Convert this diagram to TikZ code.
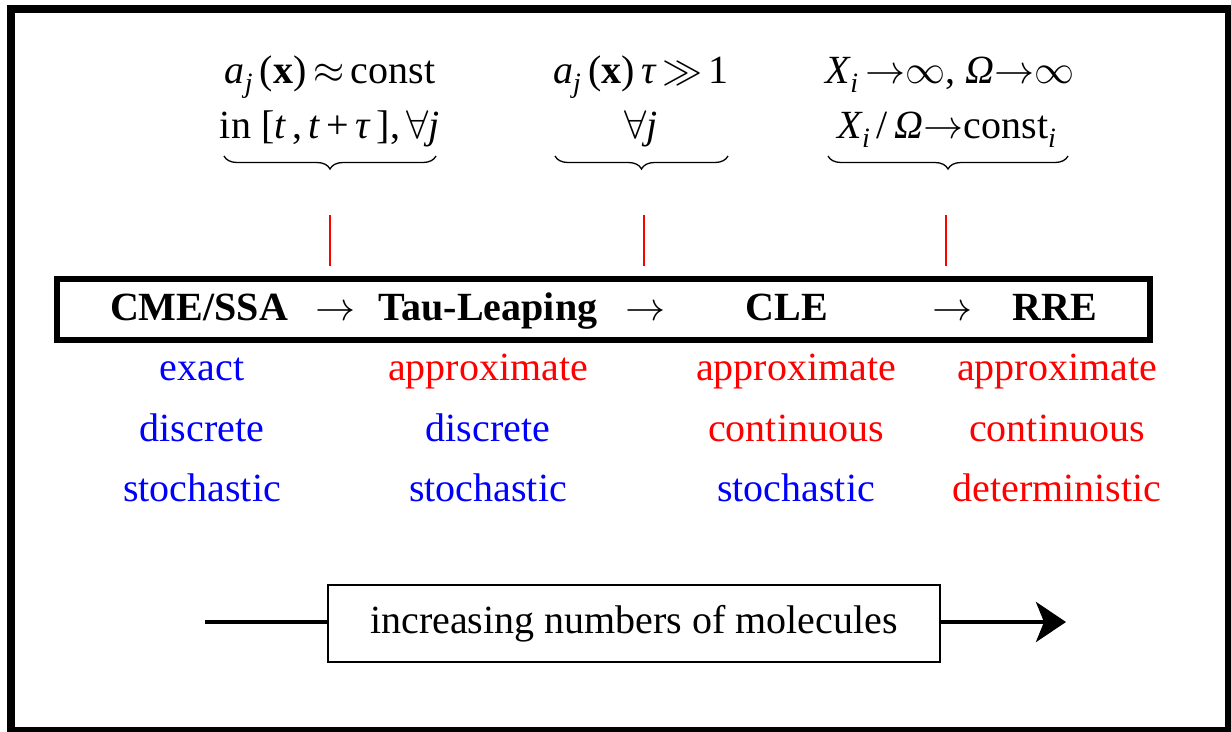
\documentclass[tikz,border=0pt]{standalone}
\usepackage{fontspec}
\usepackage{graphicx}
\setmainfont{Liberation Serif}
\usetikzlibrary{decorations.pathreplacing,arrows.meta}
\definecolor{pblue}{RGB}{0,0,255}
\definecolor{pred}{RGB}{255,0,0}
\tikzset{
  txt/.style={font=\fontsize{40}{48}\selectfont, inner sep=0pt, anchor=base},
  bold/.style={txt, font=\fontsize{40}{48}\selectfont\bfseries},
  bl/.style={txt, text=pblue},
  rd/.style={txt, text=pred},
  brc/.style={decorate, decoration={brace, mirror, amplitude=13pt}, line width=1.3pt},
  redline/.style={pred, line width=1.3pt},
}
\newcommand{\vi}[1]{{\itshape #1}}
\newcommand{\ms}[1]{\scalebox{4}{\normalsize$#1$}}
\begin{document}
\begin{tikzpicture}[x=1pt,y=-1pt]
\useasboundingbox (0,0) rectangle (1231,731);
\fill[white] (0,0) rectangle (1231,731);
\draw[line width=8pt] (11,9) rectangle (1229,731);

% conditions
\node[txt] (c1a) at (330,83) {\vi{a}\textsubscript{\vi{j}}\,(\textbf{x})\,\ms{\approx}\,const};
\node[txt] (c1b) at (330,138) {in [\vi{t}\,,\,\vi{t}\,+\,\vi{τ}\,],\,\ms{\forall}\vi{j}};
\node[txt] (c2a) at (641,83) {\vi{a}\textsubscript{\vi{j}}\,(\textbf{x})\,\vi{τ}\,\ms{\gg}\,1};
\node[txt] (c2b) at (641,138) {\ms{\forall}\vi{j}};
\node[txt] (c3a) at (950,83) {\vi{X}\textsubscript{\vi{i}}\,\ms{\rightarrow}\ms{\infty}, \vi{Ω}\ms{\rightarrow}\ms{\infty}};
\node[txt] (c3b) at (947,138) {\vi{X}\textsubscript{\vi{i}}\,/\,\vi{Ω}\ms{\rightarrow}const\textsubscript{\vi{i}}};

\coordinate (b1l) at (224,156); \coordinate (b1r) at (436,156);
\coordinate (b2l) at (555,156); \coordinate (b2r) at (728,156);
\coordinate (b3l) at (828,156); \coordinate (b3r) at (1068,156);
\draw[brc] (b1l) -- (b1r);
\draw[brc] (b2l) -- (b2r);
\draw[brc] (b3l) -- (b3r);

\coordinate (r1t) at (330,215); \coordinate (r1b) at (330,266);
\coordinate (r2t) at (644,215); \coordinate (r2b) at (644,266);
\coordinate (r3t) at (946,215); \coordinate (r3b) at (946,266);
\draw[redline] (r1t) -- (r1b);
\draw[redline] (r2t) -- (r2b);
\draw[redline] (r3t) -- (r3b);

% main chain box
\node[draw, line width=6pt, minimum width=1093pt, minimum height=61pt, inner sep=0pt] (chain) at (603.5,309.5) {};
\node[bold] (cme) at (199,320) {CME/SSA};
\node[txt] (ar1) at (335,320) {\ms{\rightarrow}};
\node[bold] (tau) at (488,320) {Tau-Leaping};
\node[txt] (ar2) at (645,320) {\ms{\rightarrow}};
\node[bold] (cle) at (787,320) {CLE};
\node[txt] (ar3) at (952,320) {\ms{\rightarrow}};
\node[bold] (rre) at (1055,320) {RRE};

% properties
\node[bl] (p11) at (202,380) {exact};
\node[bl] (p12) at (202,441) {discrete};
\node[bl] (p13) at (202,501) {stochastic};
\node[rd] (p21) at (488,380) {approximate};
\node[bl] (p22) at (488,441) {discrete};
\node[bl] (p23) at (488,501) {stochastic};
\node[rd] (p31) at (796,380) {approximate};
\node[rd] (p32) at (796,441) {continuous};
\node[bl] (p33) at (796,501) {stochastic};
\node[rd] (p41) at (1057,380) {approximate};
\node[rd] (p42) at (1057,441) {continuous};
\node[rd] (p43) at (1057,501) {deterministic};

% bottom arrow
\node[draw, line width=1.5pt, minimum width=612pt, minimum height=77pt, inner sep=0pt, font=\fontsize{40}{48}\selectfont] (inc) at (634,623.5) {increasing numbers of molecules};
\coordinate (as) at (205,622);
\coordinate (ae) at (1066,622);
\draw[line width=4.5pt] (as) -- (as -| inc.west);
\draw[line width=4.5pt, -{Stealth[length=30pt, width=40pt, inset=8pt]}] (ae -| inc.east) -- (ae);
\end{tikzpicture}
\end{document}
